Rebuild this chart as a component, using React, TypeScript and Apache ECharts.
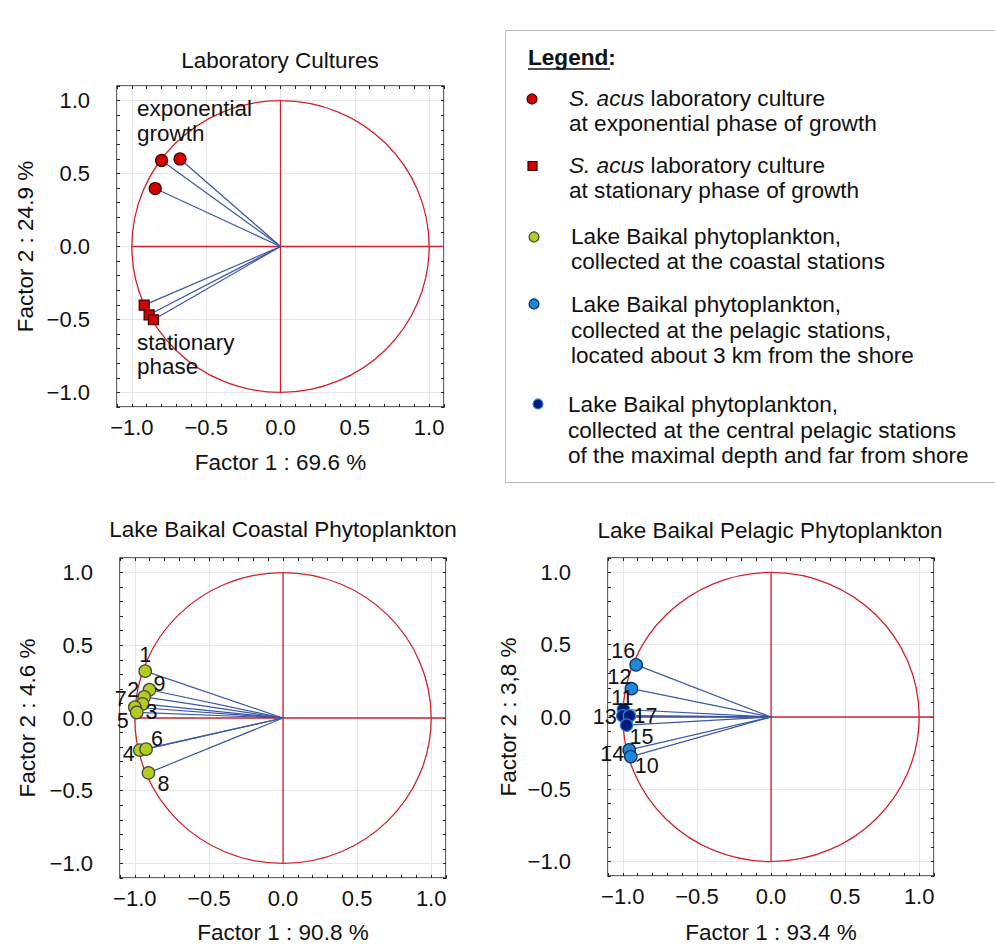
import React, { useEffect, useRef } from "react";
import * as echarts from "echarts";

// ---------- data ----------
const labExponential: number[][] = [
  [-0.8, 0.59],
  [-0.676, 0.6],
  [-0.843, 0.397],
];
const labStationary: number[][] = [
  [-0.917, -0.402],
  [-0.884, -0.468],
  [-0.855, -0.502],
];
const coastalIds = ["1", "9", "2", "3", "7", "5", "4", "6", "8"];
const coastalValues: number[][] = [
  [-0.93, 0.322],
  [-0.901, 0.194],
  [-0.937, 0.145],
  [-0.948, 0.097],
  [-1.0, 0.074],
  [-0.987, 0.038],
  [-0.966, -0.221],
  [-0.924, -0.214],
  [-0.908, -0.377],
];
const pelagicIds = ["16", "12", "14", "10"];
const pelagicValues: number[][] = [
  [-0.91, 0.361],
  [-0.942, 0.196],
  [-0.957, -0.228],
  [-0.946, -0.274],
];
const centralIds = ["11", "13", "17", "15"];
const centralValues: number[][] = [
  [-0.996, 0.052],
  [-1.0, 0.008],
  [-0.955, 0.008],
  [-0.975, -0.056],
];
const tickValues = [-1.0, -0.5, 0, 0.5, 1.0];
const panelTitles = [
  "Laboratory Cultures",
  "Lake Baikal Coastal Phytoplankton",
  "Lake Baikal Pelagic Phytoplankton",
];
const xNames = ["Factor 1 : 69.6 %", "Factor 1 : 90.8 %", "Factor 1 : 93.4 %"];
const yNames = ["Factor 2 : 24.9 %", "Factor 2 : 4.6 %", "Factor 2 : 3,8 %"];

// ---------- layout / style ----------
const FONT = '"Liberation Sans", Arial, Helvetica, sans-serif';
const RED = "#d0232b";
const RAY = "#3a58a4";
const GRIDS = [
  { left: 117, top: 86, width: 327, height: 321 },
  { left: 120, top: 558, width: 326, height: 320 },
  { left: 608, top: 558, width: 326, height: 320 },
];
const Y_LABEL_MARGIN = [27, 27, 37];
const X_NAME_GAP = [44, 43, 45];
const Y_NAME_GAP = [80, 81, 88];
const TITLE_POS = [
  [275, 44],
  [278, 513],
  [765, 514],
];
const labelOffsets: Record<string, [number, number]> = {
  "1": [0, -16],
  "9": [10, -6],
  "2": [-11, -7],
  "3": [9, 8],
  "7": [-14, -8],
  "5": [-14, 9],
  "4": [-11, 4],
  "6": [11, -10],
  "8": [15, 11],
  "16": [-13, -14],
  "12": [-12, -12],
  "11": [-1, -11],
  "13": [-18, 1],
  "17": [16, 0],
  "15": [15, 12],
  "14": [-17, 4],
  "10": [16, 9],
};

const fmt = (v: number) => {
  const isTick = tickValues.some((t) => Math.abs(t - v) < 1e-6);
  if (!isTick) return "";
  const s = Math.abs(v).toFixed(1);
  return v < -1e-9 ? "\u2212" + s : s;
};

const tickStyle = { show: true, inside: true, length: 3, lineStyle: { color: "#222", width: 1 } };
const noLine = { show: false, onZero: false };

function makeX(g: number) {
  return [
    {
      type: "value",
      gridIndex: g,
      min: -1.1,
      max: 1.1,
      interval: 0.1,
      position: "bottom",
      axisLine: noLine,
      axisTick: tickStyle,
      splitLine: { show: false },
      axisLabel: { formatter: fmt, margin: 9, fontSize: 22, color: "#111", fontFamily: FONT },
      name: xNames[g],
      nameLocation: "middle",
      nameGap: X_NAME_GAP[g],
      nameTextStyle: { fontSize: 22.5, color: "#111", fontFamily: FONT },
    },
    {
      type: "value",
      gridIndex: g,
      min: -1.1,
      max: 1.1,
      interval: 0.1,
      position: "top",
      axisLine: noLine,
      axisTick: tickStyle,
      axisLabel: { show: false },
      splitLine: { show: false },
    },
    {
      type: "value",
      gridIndex: g,
      min: -1.1,
      max: 1.1,
      position: "bottom",
      axisLine: noLine,
      axisTick: { show: false },
      axisLabel: { show: false },
      splitLine: { show: true, lineStyle: { color: "#e6e6e6", width: 1 } },
    },
  ];
}

function makeY(g: number) {
  return [
    {
      type: "value",
      gridIndex: g,
      min: -1.1,
      max: 1.1,
      interval: 0.1,
      position: "left",
      axisLine: noLine,
      axisTick: tickStyle,
      splitLine: { show: false },
      axisLabel: { formatter: fmt, margin: Y_LABEL_MARGIN[g], fontSize: 22, color: "#111", fontFamily: FONT },
      name: yNames[g],
      nameLocation: "middle",
      nameGap: Y_NAME_GAP[g],
      nameTextStyle: { fontSize: 22.5, color: "#111", fontFamily: FONT },
    },
    {
      type: "value",
      gridIndex: g,
      min: -1.1,
      max: 1.1,
      interval: 0.1,
      position: "right",
      axisLine: noLine,
      axisTick: tickStyle,
      axisLabel: { show: false },
      splitLine: { show: false },
    },
    {
      type: "value",
      gridIndex: g,
      min: -1.1,
      max: 1.1,
      position: "left",
      axisLine: noLine,
      axisTick: { show: false },
      axisLabel: { show: false },
      splitLine: { show: true, lineStyle: { color: "#e6e6e6", width: 1 } },
    },
  ];
}

function frameSeries(g: number) {
  return {
    type: "custom",
    xAxisIndex: g * 3,
    yAxisIndex: g * 3,
    silent: true,
    z: 2,
    data: [[0, 0]],
    renderItem: (_p: any, api: any) => {
      const c = api.coord([0, 0]);
      const s = api.size([1, 1]);
      const l = api.coord([-1, 0]);
      const r = api.coord([1.1, 0]);
      const t = api.coord([0, 1]);
      const b = api.coord([0, -1]);
      const st = { stroke: RED, lineWidth: 1.3, fill: "none" };
      return {
        type: "group",
        children: [
          { type: "ellipse", shape: { cx: c[0], cy: c[1], rx: s[0], ry: s[1] }, style: st },
          { type: "line", shape: { x1: l[0], y1: l[1], x2: r[0], y2: r[1] }, style: st },
          { type: "line", shape: { x1: t[0], y1: t[1], x2: b[0], y2: b[1] }, style: st },
        ],
      };
    },
  };
}

function raySeries(g: number, data: number[][]) {
  return {
    type: "custom",
    xAxisIndex: g * 3,
    yAxisIndex: g * 3,
    silent: true,
    z: 3,
    data,
    renderItem: (_p: any, api: any) => {
      const o = api.coord([0, 0]);
      const p = api.coord([api.value(0), api.value(1)]);
      return {
        type: "line",
        shape: { x1: o[0], y1: o[1], x2: p[0], y2: p[1] },
        style: { stroke: RAY, lineWidth: 1.2 },
      };
    },
  };
}

function pointSeries(
  g: number,
  values: number[][],
  ids: string[] | null,
  symbol: string,
  size: number,
  fill: string,
  border: string
) {
  return {
    type: "scatter",
    xAxisIndex: g * 3,
    yAxisIndex: g * 3,
    z: 5,
    symbol,
    symbolSize: size,
    itemStyle: { color: fill, borderColor: border, borderWidth: 1.2, opacity: 1 },
    data: values.map((v, i) => {
      const item: any = { value: v };
      if (ids) {
        item.name = ids[i];
        item.label = {
          show: true,
          position: "inside",
          offset: labelOffsets[ids[i]] || [0, 0],
          formatter: "{b}",
          fontSize: 21.5,
          color: "#111",
          fontFamily: FONT,
        };
      }
      return item;
    }),
  };
}

const LFS = 22.6;

function legendGraphics() {
  const txt = (x: number, y: number, text: string, extra: any = {}) => ({
    type: "text",
    x,
    y,
    style: {
      text,
      fontSize: LFS,
      fontFamily: FONT,
      fill: "#111",
      verticalAlign: "middle",
      align: "left",
      ...extra,
    },
  });
  const italicLine = (x: number, y: number, rest: string) => ({
    type: "text",
    x,
    y,
    style: {
      text: "{i|S. acus}" + rest,
      fontSize: LFS,
      fontFamily: FONT,
      fill: "#111",
      verticalAlign: "middle",
      align: "left",
      rich: { i: { fontStyle: "italic", fontSize: LFS, fontFamily: FONT, fill: "#111" } },
    },
  });
  const dot = (x: number, y: number, fill: string, stroke: string) => ({
    type: "circle",
    shape: { cx: x, cy: y, r: 5 },
    style: { fill, stroke, lineWidth: 1.2 },
  });
  return [
    {
      type: "rect",
      shape: { x: 505.5, y: 30.5, width: 500, height: 452 },
      style: { fill: "#fff", stroke: "#b8b8b8", lineWidth: 1 },
      z: 0,
    },
    txt(528, 57, "Legend:", { fontWeight: "bold" }),
    { type: "line", shape: { x1: 528, y1: 69, x2: 610, y2: 69 }, style: { stroke: "#111", lineWidth: 1.5 } },
    dot(532, 99, "#d40000", "#3a0000"),
    italicLine(569, 98, " laboratory culture"),
    txt(569, 123, "at exponential phase of growth"),
    {
      type: "rect",
      shape: { x: 528, y: 161.5, width: 9, height: 9 },
      style: { fill: "#d40000", stroke: "#3a0000", lineWidth: 1.2 },
    },
    italicLine(569, 165, " laboratory culture"),
    txt(569, 190, "at stationary phase of growth"),
    dot(534, 237, "#b3cc1e", "#444"),
    txt(571, 236, "Lake Baikal phytoplankton,"),
    txt(571, 261, "collected at the coastal stations"),
    dot(534, 304, "#1e88d8", "#0b2a66"),
    txt(571, 304, "Lake Baikal phytoplankton,"),
    txt(571, 330, "collected at the pelagic stations,"),
    txt(571, 355, "located about 3 km from the shore"),
    dot(538, 404, "#001a7a", "#2a86d8"),
    txt(568, 404, "Lake Baikal phytoplankton,"),
    txt(568, 430, "collected at the central pelagic stations"),
    txt(568, 455, "of the maximal depth and far from shore"),
  ];
}

function annotationGraphics() {
  const t = (x: number, y: number, text: string) => ({
    type: "text",
    x,
    y,
    z: 10,
    style: { text, fontSize: 22.5, fontFamily: FONT, fill: "#111", verticalAlign: "middle", align: "left" },
  });
  return [
    t(137, 108, "exponential"),
    t(137, 133, "growth"),
    t(137, 342, "stationary"),
    t(137, 366, "phase"),
  ];
}

export default function App() {
  const ref = useRef<HTMLDivElement>(null);
  useEffect(() => {
    if (!ref.current) return;
    const chart = echarts.init(ref.current, undefined, { renderer: "svg" });
    const option: any = {
      animation: false,
      backgroundColor: "#ffffff",
      title: panelTitles.map((text, i) => ({
        text,
        left: TITLE_POS[i][0],
        top: TITLE_POS[i][1],
        textAlign: "center",
        textStyle: { fontSize: 22.5, fontWeight: "normal", color: "#111", fontFamily: FONT },
      })),
      grid: GRIDS.map((g) => ({
        ...g,
        show: true,
        borderColor: "#333",
        borderWidth: 1.5,
        backgroundColor: "transparent",
        containLabel: false,
      })),
      xAxis: [...makeX(0), ...makeX(1), ...makeX(2)],
      yAxis: [...makeY(0), ...makeY(1), ...makeY(2)],
      series: [
        frameSeries(0),
        frameSeries(1),
        frameSeries(2),
        raySeries(0, labExponential),
        raySeries(0, labStationary),
        raySeries(1, coastalValues),
        raySeries(2, pelagicValues),
        raySeries(2, centralValues),
        pointSeries(0, labExponential, null, "circle", 12, "#d40000", "#3a0000"),
        pointSeries(0, labStationary, null, "rect", 10, "#d40000", "#3a0000"),
        pointSeries(1, coastalValues, coastalIds, "circle", 12.5, "#b3cc1e", "#444"),
        pointSeries(2, pelagicValues, pelagicIds, "circle", 12.5, "#1e88d8", "#0b2a66"),
        pointSeries(2, centralValues, centralIds, "circle", 12.5, "#001a7a", "#2a86d8"),
      ],
      graphic: [...legendGraphics(), ...annotationGraphics()],
    };
    chart.setOption(option);
    return () => chart.dispose();
  }, []);
  return (
    <div
      ref={ref}
      style={{ position: "absolute", left: 0, top: 0, width: 995, height: 945, background: "#fff" }}
    />
  );
}
